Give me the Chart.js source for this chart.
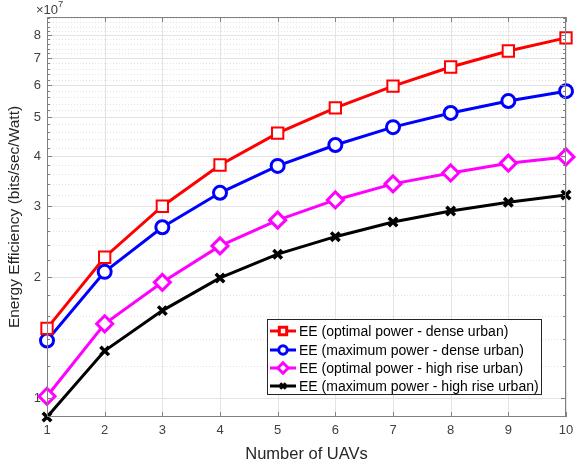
<!DOCTYPE html>
<html>
<head>
<meta charset="utf-8">
<script src="https://cdn.jsdelivr.net/npm/chart.js@4.4.1/dist/chart.umd.min.js"></script>
<style>
  html, body { margin: 0; padding: 0; background: #fff; }
  #wrap { width: 587px; height: 464px; position: relative; }
</style>
</head>
<body>
<div id="wrap"><canvas id="c" width="587" height="464"></canvas></div>
<script>
// ---- Data (values in bits/sec/Watt) ----
const numUAVs = [1, 2, 3, 4, 5, 6, 7, 8, 9, 10];
const optimalDense   = [1.49e7, 2.24e7, 3.00e7, 3.80e7, 4.56e7, 5.27e7, 5.97e7, 6.66e7, 7.30e7, 7.87e7];
const maximumDense   = [1.39e7, 2.06e7, 2.66e7, 3.24e7, 3.78e7, 4.26e7, 4.72e7, 5.12e7, 5.48e7, 5.80e7];
const optimalHighRise = [1.01e7, 1.53e7, 1.94e7, 2.39e7, 2.77e7, 3.11e7, 3.41e7, 3.63e7, 3.84e7, 3.98e7];
const maximumHighRise = [0.897e7, 1.31e7, 1.65e7, 1.99e7, 2.28e7, 2.52e7, 2.74e7, 2.92e7, 3.07e7, 3.20e7];
const seriesLabels = [
  'EE (optimal power - dense urban)',
  'EE (maximum power - dense urban)',
  'EE (optimal power - high rise urban)',
  'EE (maximum power - high rise urban)'
];
const yMajorTicks = [1e7, 2e7, 3e7, 4e7, 5e7, 6e7, 7e7, 8e7];
const yTickLabels = ['1', '2', '3', '4', '5', '6', '7', '8'];
const yMin = 0.897e7, yMax = 8.87e7;

const FONT = 'Liberation Sans, Arial, Helvetica, sans-serif';
const AXIS_COLOR = '#808080';
const GRID_MAJOR = '#e3e3e3';
const GRID_MINOR = '#e3e3e3';
const TEXT_COLOR = '#404040';

// minor grid values (every 0.2e7 within the range)
function minorValues() {
  const out = [];
  for (let k = 5; k * 0.2e7 <= yMax + 1; k++) {
    const v = k * 0.2e7;
    if (v < yMin) continue;
    if (Math.abs(v / 1e7 - Math.round(v / 1e7)) < 1e-9) continue;
    out.push(v);
  }
  return out;
}

const matlabPlugin = {
  id: 'matlab',
  beforeDatasetsDraw(chart) {
    const { ctx, chartArea: a, scales: { x, y } } = chart;
    ctx.save();
    ctx.strokeStyle = GRID_MINOR;
    ctx.lineWidth = 1;
    ctx.setLineDash([1, 2]);
    minorValues().forEach(v => {
      const py = Math.round(y.getPixelForValue(v)) + 0.5;
      ctx.beginPath(); ctx.moveTo(a.left, py); ctx.lineTo(a.right, py); ctx.stroke();
    });
    ctx.setLineDash([]);
    ctx.strokeStyle = GRID_MAJOR;
    yMajorTicks.forEach(v => {
      const py = Math.round(y.getPixelForValue(v)) + 0.5;
      ctx.beginPath(); ctx.moveTo(a.left, py); ctx.lineTo(a.right, py); ctx.stroke();
    });
    numUAVs.forEach(v => {
      const px = Math.round(x.getPixelForValue(v)) + 0.5;
      ctx.beginPath(); ctx.moveTo(px, a.top); ctx.lineTo(px, a.bottom); ctx.stroke();
    });
    ctx.restore();
  },
  afterDatasetsDraw(chart) {
    const { ctx, chartArea: a, scales: { x, y } } = chart;
    ctx.save();
    ctx.strokeStyle = AXIS_COLOR;
    ctx.lineWidth = 1;
    ctx.strokeRect(a.left + 0.5, a.top + 0.5, a.right - a.left - 1, a.bottom - a.top - 1);
    ctx.beginPath();
    yMajorTicks.forEach(v => {
      const py = Math.round(y.getPixelForValue(v)) + 0.5;
      ctx.moveTo(a.left, py); ctx.lineTo(a.left + 5, py);
      ctx.moveTo(a.right, py); ctx.lineTo(a.right - 5, py);
    });
    minorValues().forEach(v => {
      const py = Math.round(y.getPixelForValue(v)) + 0.5;
      ctx.moveTo(a.left, py); ctx.lineTo(a.left + 3, py);
      ctx.moveTo(a.right, py); ctx.lineTo(a.right - 3, py);
    });
    numUAVs.forEach(v => {
      const px = Math.round(x.getPixelForValue(v)) + 0.5;
      ctx.moveTo(px, a.bottom); ctx.lineTo(px, a.bottom - 5);
      ctx.moveTo(px, a.top); ctx.lineTo(px, a.top + 5);
    });
    ctx.stroke();
    // exponent label
    ctx.fillStyle = TEXT_COLOR;
    ctx.textBaseline = 'alphabetic';
    ctx.textAlign = 'left';
    ctx.font = '13px ' + FONT;
    ctx.fillText('\u00d710', a.left - 11, a.top - 3);
    const w = ctx.measureText('\u00d710').width;
    ctx.font = '9.5px ' + FONT;
    ctx.fillText('7', a.left - 11 + w, a.top - 10);

    // legend
    const L = 267, T = 319, R = 542, B = 395;
    ctx.fillStyle = '#ffffff';
    ctx.fillRect(L, T, R - L, B - T);
    ctx.strokeStyle = '#262626';
    ctx.lineWidth = 1;
    ctx.strokeRect(L + 0.5, T + 0.5, R - L - 1, B - T - 1);
    const rowY = [331, 350, 368, 386];
    chart.data.datasets.forEach((ds, i) => {
      const cy = rowY[i];
      ctx.strokeStyle = ds.borderColor;
      ctx.lineWidth = ds.borderWidth;
      ctx.beginPath(); ctx.moveTo(270, cy); ctx.lineTo(296, cy); ctx.stroke();
      ctx.fillStyle = '#ffffff';
      ctx.strokeStyle = ds.borderColor;
      Chart.helpers.drawPoint(ctx, {
        pointStyle: ds.pointStyle,
        radius: ds.pointRadius * 0.65,
        borderWidth: ds.pointBorderWidth,
        rotation: 0
      }, 283, cy);
      ctx.fillStyle = '#000';
      ctx.font = '14px ' + FONT;
      ctx.textBaseline = 'middle';
      ctx.fillText(ds.label, 299, cy + 1);
    });
    ctx.restore();
  }
};

function makeDs(label, data, color, style, radius, bw) {
  return {
    label, data,
    borderColor: color,
    backgroundColor: '#ffffff',
    pointBackgroundColor: style === 'crossRot' ? color : '#ffffff',
    pointBorderColor: color,
    borderWidth: 3,
    pointStyle: style,
    pointRadius: radius,
    pointHoverRadius: radius,
    pointBorderWidth: bw,
    fill: false,
    tension: 0,
    clip: false
  };
}

new Chart(document.getElementById('c'), {
  type: 'line',
  data: {
    labels: numUAVs,
    datasets: [
      makeDs(seriesLabels[0], optimalDense, '#ff0000', 'rect', 8, 2),
      makeDs(seriesLabels[1], maximumDense, '#0000ff', 'circle', 6.5, 3),
      makeDs(seriesLabels[2], optimalHighRise, '#ff00ff', 'rectRot', 8, 3),
      makeDs(seriesLabels[3], maximumHighRise, '#000000', 'crossRot', 6, 3.5)
    ]
  },
  options: {
    responsive: false,
    animation: false,
    devicePixelRatio: 1,
    layout: { padding: { left: 0, right: 21, top: 17, bottom: 0 } },
    plugins: { legend: { display: false }, tooltip: { enabled: false } },
    scales: {
      x: {
        type: 'linear',
        min: 1, max: 10,
        afterBuildTicks(scale) { scale.ticks = numUAVs.map(v => ({ value: v })); },
        afterFit(scale) { scale.height = 47; },
        grid: { display: false, drawTicks: false },
        border: { display: false },
        ticks: {
          padding: 6,
          color: TEXT_COLOR,
          font: { family: FONT, size: 13 },
          maxRotation: 0,
          callback: v => String(v)
        },
        title: {
          display: true,
          text: 'Number of UAVs',
          color: '#262626',
          font: { family: FONT, size: 16.5 },
          padding: { top: 0, bottom: 0 }
        }
      },
      y: {
        type: 'logarithmic',
        min: yMin, max: yMax,
        afterBuildTicks(scale) { scale.ticks = yMajorTicks.map(v => ({ value: v })); },
        afterFit(scale) { scale.width = 47; },
        grid: { display: false, drawTicks: false },
        border: { display: false },
        ticks: {
          padding: 6,
          color: TEXT_COLOR,
          font: { family: FONT, size: 13 },
          callback: (v) => {
            const i = yMajorTicks.indexOf(v);
            return i >= 0 ? yTickLabels[i] : '';
          }
        },
        title: {
          display: true,
          text: 'Energy Efficiency (bits/sec/Watt)',
          color: '#262626',
          font: { family: FONT, size: 15.5 },
          padding: { top: 5, bottom: 0 }
        }
      }
    }
  },
  plugins: [matlabPlugin]
});
</script>
</body>
</html>
